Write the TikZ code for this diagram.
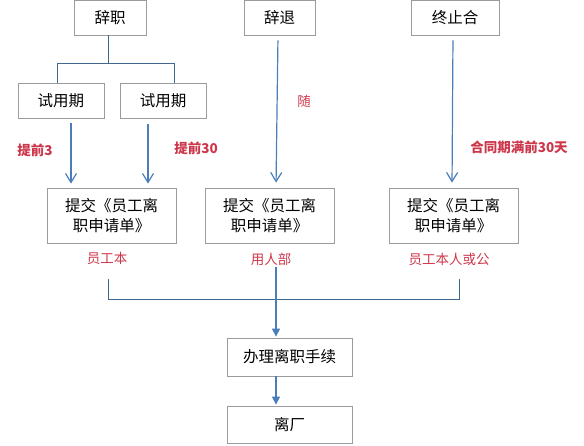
\documentclass[tikz,border=0pt]{standalone}
\usepackage{fontspec}
\setmainfont{Noto Sans CJK SC}
\usetikzlibrary{arrows.meta,shadows,calc}
\definecolor{arrblue}{RGB}{74,126,187}
\definecolor{treeblue}{RGB}{62,104,140}
\definecolor{boxgray}{RGB}{155,155,155}
\definecolor{lblred}{RGB}{205,55,75}
\begin{document}
\begin{tikzpicture}[x=1pt,y=-1pt,
  boxnode/.style 2 args={draw=boxgray, line width=0.8pt, fill=white,
    minimum width=#1, minimum height=#2, inner sep=0pt, align=center,
    font=\fontsize{15.5}{20}\selectfont,
    drop shadow={shadow xshift=0.8pt, shadow yshift=-0.9pt, fill=black!22}},
  lbl/.style={text=lblred, inner sep=1pt, font=\fontsize{13.5}{16}\selectfont},
  lblb/.style={lbl, font=\fontsize{13.5}{16}\selectfont\bfseries},
  tree/.style={draw=treeblue, line width=1pt},
  arrtop/.style={draw=arrblue, line width=1.2pt, -{Straight Barb[length=9pt,width=11pt]}},
  arrbot/.style={draw=arrblue, line width=1.2pt, -{Triangle[length=8pt,width=8pt]}}]
\useasboundingbox (0,0) rectangle (584,445);

% boxes
\node[boxnode={72pt}{35pt}] (cz) at (110,17.5) {辞职};
\node[boxnode={71pt}{35pt}] (ct) at (279.5,17.5) {辞退};
\node[boxnode={88pt}{35pt}] (zz) at (455,17.5) {终止合};
\node[boxnode={86pt}{35pt}] (s1) at (61,100.5) {试用期};
\node[boxnode={86pt}{35pt}] (s2) at (163,100.5) {试用期};
\node[boxnode={129pt}{55pt}] (b1) at (111.5,215.5) {提交《员工离\\职申请单》};
\node[boxnode={129pt}{55pt}] (b2) at (269.5,215.5) {提交《员工离\\职申请单》};
\node[boxnode={129pt}{55pt}] (b3) at (453.5,215.5) {提交《员工离\\职申请单》};
\node[boxnode={125pt}{38pt}] (bl) at (289.5,357) {办理离职手续};
\node[boxnode={125pt}{37pt}] (lc) at (289.5,424.5) {离厂};

% labels
\node[lblb] (t1) at (35,150) {提前3};
\node[lblb] (t2) at (196,148) {提前30};
\node[lbl]  (t3) at (304,101) {随};
\node[lblb] (t4) at (519,147) {合同期满前30天};
\node[lbl]  (u1) at (107,258) {员工本};
\node[lbl]  (u2) at (271,259) {用人部};
\node[lbl]  (u3) at (449,259) {员工本人或公};

% tree under 辞职
\coordinate (jm) at (108,63);
\coordinate (jl) at (57,63);
\coordinate (jr) at (174,63);
\draw[tree] (jm |- cz.south) -- (jm);
\draw[tree] (jl |- s1.north) -- (jl) -- (jr) -- (jr |- s2.north);

% top arrows
\coordinate (a1) at (71,0);
\coordinate (a2) at (148,0);
\draw[arrtop, shorten <=5pt, shorten >=4pt] (a1 |- s1.south) -- (a1 |- b1.north);
\draw[arrtop, shorten <=6pt, shorten >=4pt] (a2 |- s2.south) -- (a2 |- b1.north);
\draw[arrtop, shorten <=5pt, shorten >=5pt] ($(ct.south)+(-1.5,0)$) -- ($(b2.north)+(6.5,0)$);
\draw[arrtop, shorten <=5pt, shorten >=5pt] ($(zz.south)+(-2,0)$) -- ($(b3.north)+(-1.5,0)$);

% bottom bracket
\coordinate (kl) at (108,299);
\coordinate (kr) at (459,299);
\draw[tree] ($(kl)+(0,-20)$) -- (kl) -- (kr) -- ($(kr)+(0,-20)$);

% bottom arrows
\coordinate (m) at (276,0);
\draw[arrbot, shorten <=1pt, shorten >=1pt] (m |- u2.south) -- (m |- bl.north);
\draw[arrbot, shorten >=1pt] (m |- bl.south) -- (m |- lc.north);
\end{tikzpicture}
\end{document}
